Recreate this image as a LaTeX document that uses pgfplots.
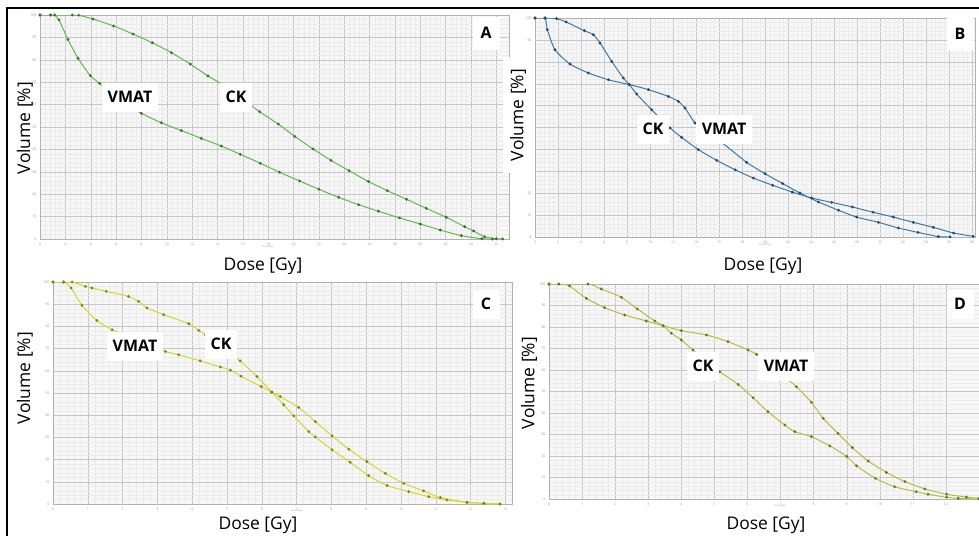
\documentclass[border=0pt]{standalone}
\usepackage{fontspec}
\setmainfont{Open Sans}
\usepackage{pgfplots}
\pgfplotsset{compat=1.18}

\definecolor{cA}{RGB}{95,185,75}
\definecolor{cB}{RGB}{60,120,170}
\definecolor{cC}{RGB}{215,215,40}
\definecolor{cD}{RGB}{180,190,60}

\pgfplotsset{
  dvh/.style={
    scale only axis, anchor=north west,
    ymin=0, ymax=100, ytick={0,10,...,100},
    grid=both, minor x tick num=4, minor y tick num=4,
    major grid style={gray!45, line width=0.3pt},
    minor grid style={gray!16, line width=0.2pt},
    axis background/.style={fill=gray!6},
    axis line style={gray!60, line width=0.3pt},
    major tick length=0pt, minor tick length=0pt,
    ticklabel style={font=\fontsize{3.5}{4}\selectfont, text=gray!80},
    /pgf/number format/assume math mode=true,
    every axis plot/.append style={smooth, tension=0.4, line width=1pt, mark=*, mark size=0.85pt},
  },
}
\tikzset{
  lab/.style={fill=white, font=\fontsize{16}{16}\selectfont\bfseries, inner xsep=6bp, minimum height=29bp},
  big/.style={font=\fontsize{17.5}{18}\selectfont},
  tinyl/.style={font=\fontsize{2.5}{3}\selectfont, text=gray!80},
}

\begin{document}
\begin{tikzpicture}
\useasboundingbox (0,0) rectangle (979bp,-536bp);

% ---- A
\begin{axis}[dvh, at={(40bp,-15bp)}, width=469bp, height=224bp,
  xmin=0, xmax=37, xtick={0,2,...,36}]
\addplot[cA, mark options={fill=cA!60!black, draw=cA!60!black}] coordinates {
  (0,100) (0.84,100) (2.55,100) (3.05,99.9) (4.18,98.2) (5.81,95.1) (7.34,91.5)
  (8.86,87.6) (10.36,83.2) (11.86,78.1) (13.25,72.8) (14.7,68) (16,62.5)
  (17.33,56.8) (18.8,51.3) (20.1,45.8) (21.54,40.2) (22.96,35.1) (24.38,30.5)
  (25.9,25.7) (27.4,21.6) (28.92,17.7) (30.48,13.7) (32.05,9.7) (33.5,5.5)
  (34.2,3.6) (35.08,1.0) (36,0.1) (36.5,0)
};
\addplot[cA, mark options={fill=cA!60!black, draw=cA!60!black}] coordinates {
  (0,100) (0.84,100) (1.16,100) (1.5,97.8) (2.2,89.1) (3.0,80.7) (3.97,72.9)
  (4.7,69.5) (6.3,62) (8.0,56.1) (9.57,51.9) (11.15,48.4) (12.73,44.9) (14.3,41.5)
  (15.8,37.8) (17.38,33.8) (18.9,29.8) (20.48,25.9) (22.0,22.2) (23.56,18.6)
  (25.14,15.3) (26.7,12.4) (28.37,9.4) (30.0,6.7) (31.58,4.0) (33.24,1.5)
  (34.87,0.1) (35.7,0)
};
\end{axis}

% ---- B
\begin{axis}[dvh, at={(535bp,-18bp)}, width=440bp, height=219bp,
  xmin=0, xmax=38.26, xtick={0,2,...,38}]
\addplot[cB, mark options={fill=cB!60!black, draw=cB!60!black}] coordinates {
  (0,100) (0.87,100) (1.88,99.7) (2.7,98.2) (4.29,94.2) (5.07,92.4) (5.65,88.6)
  (6.67,80.2) (7.68,72.6) (8.2,69.6) (8.84,65.3) (10.14,58.1) (11.74,49.8)
  (12.75,45.5) (14.2,39.9) (15.8,35.0) (17.4,30.7) (19.0,26.9) (20.67,23.6)
  (22.38,20.5) (24.06,17.8) (25.8,15.8) (27.6,13.7) (29.4,11.3) (31.16,9.1)
  (32.9,6.7) (34.64,4.4) (36.4,1.8) (38.1,0.3)
};
\addplot[cB, mark options={fill=cB!60!black, draw=cB!60!black}] coordinates {
  (0,100) (0.87,100) (1.07,94.7) (1.74,85.5) (3.04,79.0) (4.64,74.9) (6.38,71.8)
  (8.2,69.6) (9.86,67.3) (11.6,64.2) (12.46,61.9) (13.04,58.9) (13.9,52.1)
  (14.9,47.5) (16.1,43.7) (18.4,34.1) (20.0,28.9) (21.54,24.4) (23.04,20.1)
  (24.64,16.0) (26.4,12.2) (27.97,9.1) (29.86,6.7) (31.6,4.1) (33.3,2.1)
  (35.07,0.2) (36.1,0)
};
\end{axis}

% ---- C
\begin{axis}[dvh, at={(53bp,-282bp)}, width=459bp, height=222bp,
  xmin=0, xmax=13.19, xtick={0,1,...,13}]
\addplot[cC, mark options={fill=cC!60!black, draw=cC!60!black}] coordinates {
  (0,100) (0.31,100) (0.55,100) (0.93,98.0) (1.12,97.3) (1.53,95.8) (2.17,93.5)
  (2.46,91.3) (2.7,88.3) (3.18,85.3) (3.9,81.2) (4.19,78.2) (4.38,76.2)
  (4.76,71.7) (5.38,64.5) (5.86,57.4) (6.29,50.4) (6.63,44.7) (6.92,39.7)
  (7.35,32.6) (7.54,30.2) (8.02,24.4) (8.54,18.8) (9.07,12.8) (9.6,8.3)
  (10.22,5.6) (10.8,3.3) (11.32,1.8) (11.9,0.75) (12.38,0.3) (12.85,0)
};
\addplot[cC, mark options={fill=cC!60!black, draw=cC!60!black}] coordinates {
  (0,100) (0.31,100) (0.52,97.3) (0.83,89.5) (1.26,82.7) (1.7,78.5) (2.5,73.2)
  (3.23,68.7) (3.61,67.2) (4.23,64.5) (4.81,61.7) (5.1,60.3) (5.4,57.6)
  (5.98,52.9) (6.29,50.4) (6.53,48.4) (7.06,43.5) (7.54,37.1) (8.02,30.7)
  (8.5,24.7) (9.02,19.1) (9.55,13.8) (10.08,9.3) (10.65,5.9) (11.13,2.9)
  (11.9,0.75) (12.38,0.3) (12.85,0)
};
\end{axis}

% ---- D
\begin{axis}[dvh, at={(549bp,-284bp)}, width=430bp, height=215bp,
  xmin=0, xmax=13, xtick={0,1,...,12}]
\addplot[cD, mark options={fill=cD!60!black, draw=cD!60!black}] coordinates {
  (0,100) (0.3,100) (1.18,100) (1.58,97.7) (2.19,93.8) (2.67,88.4) (3.2,82.8)
  (3.45,80.6) (3.7,77.1) (4.0,74.0) (4.35,69.3) (4.76,63.9) (5.16,59.2)
  (5.72,53.3) (6.17,47.1) (6.62,40.6) (7.13,34.4) (7.43,31.3) (7.93,29.0)
  (8.49,24.7) (9.0,19.8) (9.3,15.4) (9.87,9.6) (10.45,5.7) (11.1,3.4)
  (11.46,2.2) (12.02,0.8) (12.37,0.3) (13,0)
};
\addplot[cD, mark options={fill=cD!60!black, draw=cD!60!black}] coordinates {
  (0,100) (0.3,100) (0.62,99.1) (1.13,93.3) (1.68,89.0) (2.29,85.6) (2.94,82.8)
  (3.45,80.6) (4.0,78.3) (4.76,76.3) (5.41,73.2) (6.02,69.3) (6.27,67.3)
  (6.88,60.0) (7.48,52.2) (7.93,45.0) (8.29,37.5) (8.74,30.5) (9.17,23.9)
  (9.65,17.7) (10.2,12.4) (10.76,8.1) (11.36,4.7) (12.02,2.2) (12.62,0.9)
  (13,0.3)
};
\end{axis}

% tiny in-chart axis captions
\node[tinyl] at (268bp,-247bp) {Dose (Gy)};
\node[tinyl] at (765bp,-245bp) {Dose (Gy)};
\node[tinyl] at (297bp,-511bp) {Dose (Gy)};
\node[tinyl] at (780bp,-506bp) {Dose (Gy)};

% curve labels and panel letters
\node[lab] at (130bp,-97bp) {VMAT};
\node[lab] at (236bp,-97bp) {CK};
\node[lab, minimum width=27bp, minimum height=33bp] at (486bp,-33bp) {A};

\node[lab] at (653bp,-129bp) {CK};
\node[lab] at (724bp,-129bp) {VMAT};
\node[lab, minimum width=27bp, minimum height=33bp] at (960bp,-34bp) {B};

\node[lab] at (135bp,-346bp) {VMAT};
\node[lab] at (221bp,-344bp) {CK};
\node[lab, minimum width=27bp, minimum height=29bp] at (486bp,-304bp) {C};

\node[lab] at (703bp,-366bp) {CK};
\node[lab] at (786bp,-366bp) {VMAT};
\node[lab, minimum width=27bp, minimum height=29bp] at (960bp,-304bp) {D};

% axis titles
\node[big, rotate=90] at (25bp,-128bp) {Volume [\%]};
\node[big, rotate=90, fill=white, minimum width=116bp, minimum height=30bp, inner sep=0pt] at (518bp,-115bp) {Volume [\%]};
\node[big, rotate=90] at (25bp,-378bp) {Volume [\%]};
\node[big, rotate=90] at (529bp,-383bp) {Volume [\%]};

\node[big] at (263bp,-266bp) {Dose [Gy]};
\node[big] at (763bp,-266bp) {Dose [Gy]};
\node[big] at (258bp,-525bp) {Dose [Gy]};
\node[big] at (766bp,-525bp) {Dose [Gy]};

% outer frame
\draw[line width=1.2pt] (7bp,-536bp) -- (7bp,-8bp) -- (979bp,-8bp);
\end{tikzpicture}
\end{document}
